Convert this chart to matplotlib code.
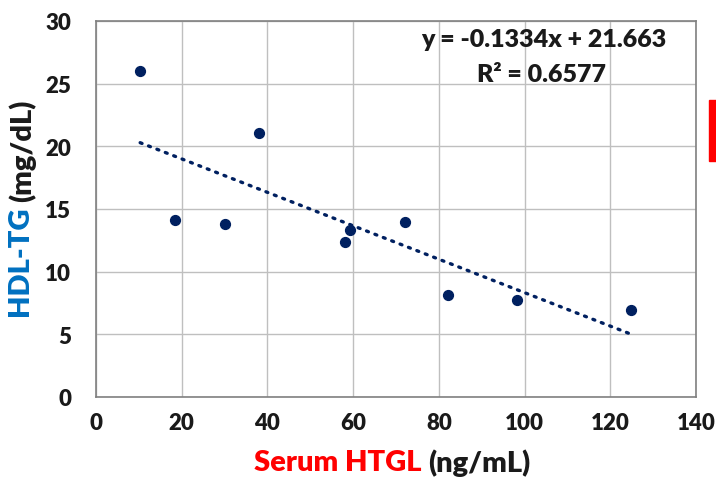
import numpy as np
import matplotlib.pyplot as plt

# Datos
htgl = [10.3, 18.4, 30.1, 38.0, 58.1, 59.3, 72.1, 82.1, 98.2, 124.8]
hdl_tg = [26.0, 14.1, 13.8, 21.1, 12.4, 13.3, 14.0, 8.1, 7.7, 6.9]
slope = -0.1334
intercept = 21.663
r2 = 0.6577

x_ticks = [0, 20, 40, 60, 80, 100, 120, 140]
y_ticks = [0, 5, 10, 15, 20, 25, 30]

plt.rcParams['font.family'] = ['Lato', 'DejaVu Sans']
W = 'heavy'

fig = plt.figure(figsize=(7.16, 4.81), dpi=100)
ax = fig.add_axes([0.1341, 0.1726, 0.8380, 0.7817])

ax.scatter(htgl, hdl_tg, s=50, color='#002060', zorder=3)

# línea de tendencia (regresión lineal)
xs = np.array([min(htgl), max(htgl)])
ax.plot(xs, slope * xs + intercept, color='#002060', lw=2.4,
        linestyle=(0, (0.6, 2.1)), dash_capstyle='round', zorder=2)

ax.set_xlim(0, 140)
ax.set_ylim(0, 30)
ax.set_xticks(x_ticks)
ax.set_yticks(y_ticks)
ax.grid(True, color='#BFBFBF', lw=1)
ax.set_axisbelow(True)
for sp in ax.spines.values():
    sp.set_color('#808080')
    sp.set_linewidth(1.2)
ax.tick_params(length=0, labelsize=16, colors='#1a1a1a')
ax.tick_params(axis='x', pad=11)
ax.tick_params(axis='y', pad=18)
for lab in ax.get_xticklabels() + ax.get_yticklabels():
    lab.set_fontweight(W)

ax.text(0.746, 0.953, f'y = {slope}x + {intercept}', transform=ax.transAxes,
        ha='center', va='center', fontsize=18, fontweight=W, color='#1a1a1a')
ax.text(0.743, 0.860, f'R² = {r2}', transform=ax.transAxes,
        ha='center', va='center', fontsize=18, fontweight=W, color='#1a1a1a')

# etiquetas de ejes con dos colores
fig.canvas.draw()
r = fig.canvas.get_renderer()
t1 = fig.text(0, 0, 'Serum HTGL ', fontsize=21, fontweight=W, color='#FF0000',
              ha='left', va='center')
t2 = fig.text(0, 0, '(ng/mL)', fontsize=21, fontweight=W, color='#1a1a1a',
              ha='left', va='center')
w1 = t1.get_window_extent(r).width
w2 = t2.get_window_extent(r).width
x0 = 392 - (w1 + w2) / 2
yx = 1 - 463 / 481
t1.set_position((x0 / 716, yx))
t2.set_position(((x0 + w1) / 716, yx))

u1 = fig.text(0, 0, 'HDL-TG ', fontsize=21, fontweight=W, color='#0070C0',
              rotation=90, ha='center', va='bottom')
u2 = fig.text(0, 0, '(mg/dL)', fontsize=21, fontweight=W, color='#1a1a1a',
              rotation=90, ha='center', va='bottom')
h1 = u1.get_window_extent(r).height
h2 = u2.get_window_extent(r).height
y0 = (481 - 209) - (h1 + h2) / 2
u1.set_position((22 / 716, y0 / 481))
u2.set_position((22 / 716, (y0 + h1) / 481))

# barra roja a la derecha
fig.patches.append(plt.Rectangle((709 / 716, 1 - 162 / 481), 7 / 716, 61 / 481,
                                 transform=fig.transFigure, color='#FF0000'))

fig.savefig('out.png', dpi=100)
